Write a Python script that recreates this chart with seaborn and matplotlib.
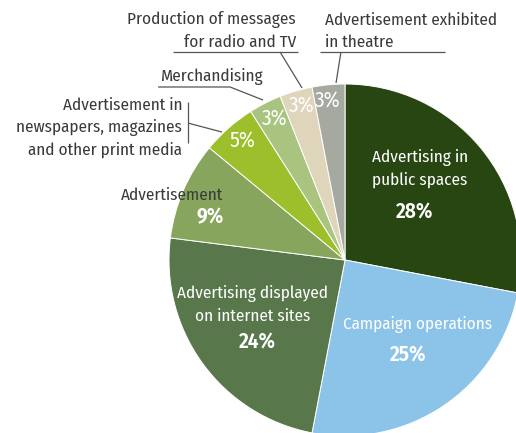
import matplotlib
matplotlib.use("Agg")
import matplotlib.pyplot as plt
import seaborn as sns

# Shares of advertising spend by channel (percent), clockwise from 12 o'clock
categories = [
    "Advertising in public spaces",
    "Campaign operations",
    "Advertising displayed on internet sites",
    "Advertisement",
    "Advertisement in newspapers, magazines and other print media",
    "Merchandising",
    "Production of messages for radio and TV",
    "Advertisement exhibited in theatre",
]
shares = [28, 25, 24, 9, 5, 3, 3, 3]
pct_labels = ["28%", "25%", "24%", "9%", "5%", "3%", "3%", "3%"]
colors = ["#284611", "#8cc3e9", "#58774a", "#87a55d",
          "#9dbf2b", "#a9c47f", "#dfd5ba", "#a6a99f"]

sns.set_theme(style="white")
plt.rcParams["font.family"] = ["Fira Sans Condensed", "DejaVu Sans"]

W, H, DPI = 516, 433, 100
fig = plt.figure(figsize=(W / DPI, H / DPI), dpi=DPI)
ax = fig.add_axes([0, 0, 1, 1])

# pie of radius 1 centred at the origin; view window crops its right and bottom
R = 176.0
cx, cy = 345.0, 260.0

wedges, _ = ax.pie(
    shares, colors=colors, startangle=90, counterclock=False,
    radius=1.0, center=(0, 0), frame=True,
    wedgeprops=dict(edgecolor="white", linewidth=0.7),
)
ax.set_xlim(-cx / R, (W - cx) / R)
ax.set_ylim(-(H - cy) / R, cy / R)
ax.set_aspect("auto")
ax.axis("off")

txt = "#3a3a3a"
fs = 12.3        # category names
fs_big = 15.3    # bold percentages in the large slices
fs_small = 15.5  # percentages in the narrow slices

# labels inside the large slices
inside = [
    ("Advertising in", 0.426, 0.580, fs, "normal"),
    ("public spaces", 0.426, 0.455, fs, "normal"),
    (pct_labels[0], 0.398, 0.270, fs_big, "semibold"),
    ("Campaign operations", 0.415, -0.369, fs, "normal"),
    (pct_labels[1], 0.358, -0.540, fs_big, "semibold"),
    ("Advertising displayed", -0.523, -0.188, fs, "normal"),
    ("on internet sites", -0.523, -0.318, fs, "normal"),
    (pct_labels[2], -0.500, -0.466, fs_big, "semibold"),
    (pct_labels[3], -0.767, 0.244, fs_big, "semibold"),
]
for s, x, y, size, w in inside:
    ax.text(x, y, s, color="white", fontsize=size, fontweight=w,
            ha="center", va="center")

# percentages in the narrow slices
for s, x, y in [(pct_labels[4], -0.585, 0.682), (pct_labels[5], -0.398, 0.807),
                (pct_labels[6], -0.244, 0.881), (pct_labels[7], -0.097, 0.909)]:
    ax.text(x, y, s, color="white", fontsize=fs_small, ha="center", va="center")

# outside labels
ax.text(-0.983, 0.369, "Advertisement", color=txt, fontsize=fs,
        ha="center", va="center")
ax.text(-1.051, 1.040, "Merchandising", color=txt, fontsize=fs,
        ha="left", va="center")
for s, y in [("Advertisement in", 0.881), ("newspapers, magazines", 0.750),
             ("and other print media", 0.625)]:
    ax.text(-0.926, y, s, color=txt, fontsize=fs, ha="right", va="center")
for s, y in [("Production of messages", 1.364), ("for radio and TV", 1.239)]:
    ax.text(-0.278, y, s, color=txt, fontsize=fs, ha="right", va="center")
for s, y in [("Advertisement exhibited", 1.364), ("in theatre", 1.239)]:
    ax.text(-0.114, y, s, color=txt, fontsize=fs, ha="left", va="center")

# leader lines
lk = dict(color="#555555", linewidth=0.9, solid_capstyle="butt")
ax.plot([-0.977, -0.267], [1.182, 1.182], **lk)
ax.plot([-0.369, -0.244], [1.182, 0.977], **lk)
ax.plot([-0.142, 0.568], [1.182, 1.182], **lk)
ax.plot([-0.023, -0.051], [1.182, 1.006], **lk)
ax.plot([-1.062, -0.653, -0.466], [0.983, 0.983, 0.909], **lk)
ax.plot([-0.892, -0.892], [0.898, 0.665], **lk)
ax.plot([-0.892, -0.699], [0.778, 0.727], **lk)

fig.savefig("out.png", dpi=DPI, facecolor="white")
